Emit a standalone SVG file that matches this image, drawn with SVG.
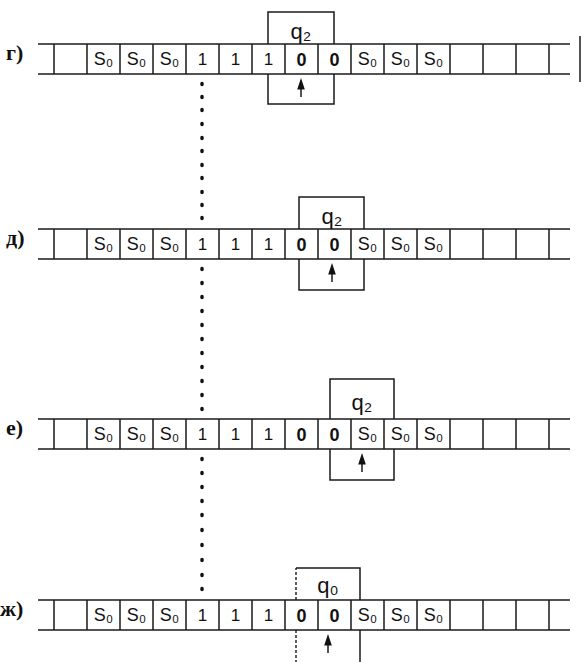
<svg xmlns="http://www.w3.org/2000/svg" width="584" height="662" viewBox="0 0 584 662">
<defs>
<style>
.ln{stroke:#1a1a1a;stroke-width:1.5;fill:none}
.dl{stroke:#1a1a1a;stroke-width:1.4;fill:none;stroke-dasharray:3 2}
.c{font-family:"Liberation Sans","DejaVu Sans",sans-serif;font-size:18px;fill:#111;text-anchor:middle}
.o{font-family:"Liberation Sans","DejaVu Sans",sans-serif;font-size:17px;fill:#111;text-anchor:middle}
.z{font-family:"Liberation Sans","DejaVu Sans",sans-serif;font-size:18px;font-weight:bold;fill:#111;text-anchor:middle}
.q{font-family:"Liberation Sans","DejaVu Sans",sans-serif;font-size:22px;fill:#111;text-anchor:middle}
.lb{font-family:"Liberation Serif","DejaVu Serif",serif;font-size:22px;font-weight:bold;fill:#111}
.dot{fill:#111}
.ar{fill:#111;stroke:#111;stroke-width:1.2}
</style>
<g id="tape">
<line class="ln" x1="38" y1="0" x2="570" y2="0"/>
<line class="ln" x1="38" y1="30" x2="570" y2="30"/>
<path class="ln" d="M54 0V30M87 0V30M120 0V30M153 0V30M186 0V30M219 0V30M252 0V30M285 0V30M318 0V30M351 0V30M384 0V30M417 0V30M450 0V30M483 0V30M516 0V30M549 0V30"/>
<text class="c" x="103.5" y="21">S₀</text>
<text class="c" x="136.5" y="21">S₀</text>
<text class="c" x="169.5" y="21">S₀</text>
<text class="o" x="202.5" y="21">1</text>
<text class="o" x="235.5" y="21">1</text>
<text class="o" x="268.5" y="21">1</text>
<text class="z" x="301.5" y="22">0</text>
<text class="z" x="334.5" y="22">0</text>
<text class="c" x="367.5" y="21">S₀</text>
<text class="c" x="400.5" y="21">S₀</text>
<text class="c" x="433.5" y="21">S₀</text>
</g>
<g id="arrow">
<line class="ln" x1="0" y1="23" x2="0" y2="11" stroke-width="1.8"/>
<path class="ar" d="M-3 15L0 6L3 15Z"/>
</g>
</defs>

<g id="connectors">
<g class="dot">
<ellipse cx="202" cy="84" rx="1.8" ry="2.2"/><ellipse cx="202" cy="97" rx="1.8" ry="2.2"/><ellipse cx="202" cy="110" rx="1.8" ry="2.2"/><ellipse cx="202" cy="124" rx="1.8" ry="2.2"/><ellipse cx="202" cy="138" rx="1.8" ry="2.2"/><ellipse cx="202" cy="151" rx="1.8" ry="2.2"/><ellipse cx="202" cy="165" rx="1.8" ry="2.2"/><ellipse cx="202" cy="178" rx="1.8" ry="2.2"/><ellipse cx="202" cy="192" rx="1.8" ry="2.2"/><ellipse cx="202" cy="205" rx="1.8" ry="2.2"/><ellipse cx="202" cy="218" rx="1.8" ry="2.2"/>
<ellipse cx="202" cy="269" rx="1.8" ry="2.2"/><ellipse cx="202" cy="283" rx="1.8" ry="2.2"/><ellipse cx="202" cy="297" rx="1.8" ry="2.2"/><ellipse cx="202" cy="311" rx="1.8" ry="2.2"/><ellipse cx="202" cy="325" rx="1.8" ry="2.2"/><ellipse cx="202" cy="339" rx="1.8" ry="2.2"/><ellipse cx="202" cy="353" rx="1.8" ry="2.2"/><ellipse cx="202" cy="367" rx="1.8" ry="2.2"/><ellipse cx="202" cy="381" rx="1.8" ry="2.2"/><ellipse cx="202" cy="395" rx="1.8" ry="2.2"/><ellipse cx="202" cy="409" rx="1.8" ry="2.2"/>
<ellipse cx="202" cy="459" rx="1.8" ry="2.2"/><ellipse cx="202" cy="473" rx="1.8" ry="2.2"/><ellipse cx="202" cy="487" rx="1.8" ry="2.2"/><ellipse cx="202" cy="501" rx="1.8" ry="2.2"/><ellipse cx="202" cy="515" rx="1.8" ry="2.2"/><ellipse cx="202" cy="530" rx="1.8" ry="2.2"/><ellipse cx="202" cy="545" rx="1.8" ry="2.2"/><ellipse cx="202" cy="560" rx="1.8" ry="2.2"/><ellipse cx="202" cy="575" rx="1.8" ry="2.2"/><ellipse cx="202" cy="589" rx="1.8" ry="2.2"/>
</g>
</g>

<g id="row-g" transform="translate(0,44)">
<text class="lb" x="6" y="16">г)</text>
<use href="#tape"/>
<g id="state-g"><path class="ln" d="M268 0V-32H334V0"/><text class="q" x="301" y="-5">q₂</text></g>
<g id="head-g"><path class="ln" d="M268 30V60H334V30"/><use href="#arrow" x="301" y="30"/></g>
</g>

<g id="row-d" transform="translate(0,229)">
<text class="lb" x="6" y="16">д)</text>
<use href="#tape"/>
<g id="state-d"><path class="ln" d="M299 0V-32H364V0"/><text class="q" x="332" y="-5">q₂</text></g>
<g id="head-d"><path class="ln" d="M299 30V61H364V30"/><use href="#arrow" x="332" y="30"/></g>
</g>

<g id="row-e" transform="translate(0,419)">
<text class="lb" x="6" y="16">е)</text>
<use href="#tape"/>
<g id="state-e"><path class="ln" d="M330 0V-40H394V0"/><text class="q" x="362" y="-9">q₂</text></g>
<g id="head-e"><path class="ln" d="M330 30V61H394V30"/><use href="#arrow" x="362" y="30"/></g>
</g>

<g id="row-zh" transform="translate(0,600)">
<text class="lb" x="0" y="16">ж)</text>
<use href="#tape"/>
<g id="state-zh"><path class="dl" d="M296 0V-32"/><path class="ln" d="M296 -32H360V0"/><text class="q" x="328" y="-7">q₀</text></g>
<g id="head-zh"><path class="dl" d="M296 30V62"/><path class="ln" d="M360 30V62"/><use href="#arrow" x="328" y="30"/></g>
</g>

<line class="ln" x1="580" y1="36" x2="580" y2="82" stroke-width="2.5"/>
</svg>
